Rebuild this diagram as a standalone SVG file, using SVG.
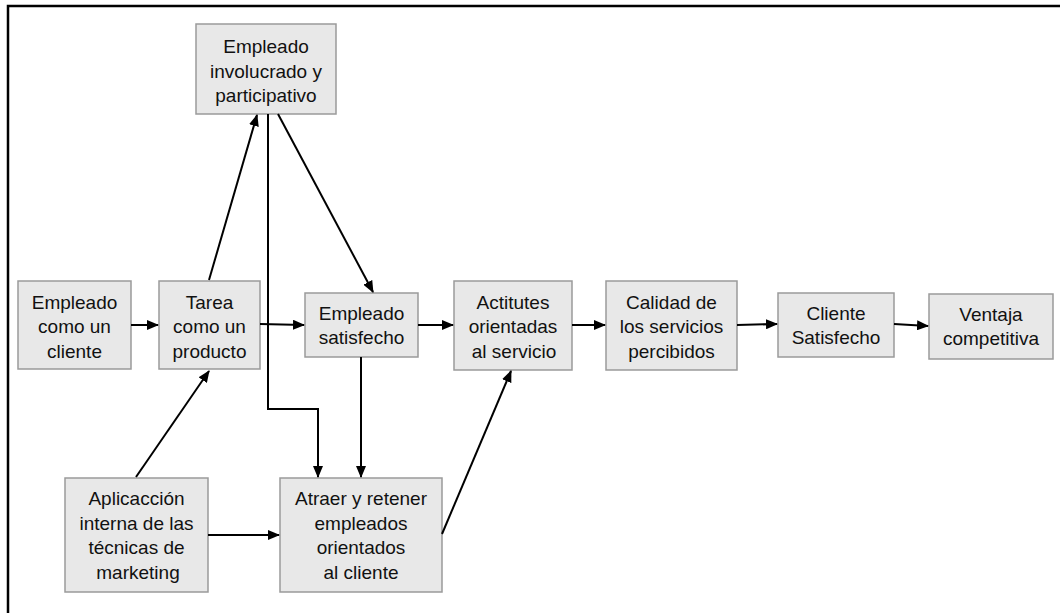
<svg xmlns="http://www.w3.org/2000/svg" width="1060" height="613" viewBox="0 0 1060 613">
<defs>
<marker id="ah" markerUnits="userSpaceOnUse" markerWidth="12" markerHeight="10" refX="11" refY="5" orient="auto">
<path d="M0,0 L12,5 L0,10 Z" fill="#000"/>
</marker>
<style>
.box{fill:#e8e8e8;stroke:#9a9a9a;stroke-width:1.5}
.t{font-family:"Liberation Sans",Arial,sans-serif;font-size:19px;fill:#111;text-anchor:middle}
.c{fill:none;stroke:#000;stroke-width:2;marker-end:url(#ah)}
.l{fill:none;stroke:#000;stroke-width:2}
</style>
</defs>
<rect x="0" y="0" width="1060" height="613" fill="#fff"/>
<rect x="8" y="6" width="1200" height="800" fill="none" stroke="#000" stroke-width="2.5"/>

<g id="n-involucrado">
<rect class="box" x="196" y="24" width="140" height="90"/>
<text class="t" x="266" y="53">Empleado</text>
<text class="t" x="266" y="77.5">involucrado y</text>
<text class="t" x="266" y="102">participativo</text>
</g>
<g id="n-cliente-emp">
<rect class="box" x="18" y="281" width="113" height="88"/>
<text class="t" x="74.5" y="308.5">Empleado</text>
<text class="t" x="74.5" y="333">como un</text>
<text class="t" x="74.5" y="357.5">cliente</text>
</g>
<g id="n-tarea">
<rect class="box" x="159" y="281" width="101" height="88"/>
<text class="t" x="209.5" y="308.5">Tarea</text>
<text class="t" x="209.5" y="333">como un</text>
<text class="t" x="209.5" y="357.5">producto</text>
</g>
<g id="n-satisfecho">
<rect class="box" x="305" y="293" width="113" height="64"/>
<text class="t" x="361.5" y="320">Empleado</text>
<text class="t" x="361.5" y="344">satisfecho</text>
</g>
<g id="n-actitudes">
<rect class="box" x="454" y="281" width="118" height="89"/>
<text class="t" x="513" y="308.5">Actitutes</text>
<text class="t" x="513" y="333">orientadas</text>
<text class="t" x="514" y="357.5">al servicio</text>
</g>
<g id="n-calidad">
<rect class="box" x="606" y="281" width="131" height="89"/>
<text class="t" x="671.5" y="308.5">Calidad de</text>
<text class="t" x="671.5" y="333">los servicios</text>
<text class="t" x="671.5" y="357.5">percibidos</text>
</g>
<g id="n-cliente-sat">
<rect class="box" x="778" y="293" width="116" height="64"/>
<text class="t" x="836" y="320">Cliente</text>
<text class="t" x="836" y="344">Satisfecho</text>
</g>
<g id="n-ventaja">
<rect class="box" x="929" y="294" width="124" height="65"/>
<text class="t" x="991" y="321">Ventaja</text>
<text class="t" x="991" y="345">competitiva</text>
</g>
<g id="n-aplicacion">
<rect class="box" x="65" y="478" width="143" height="114"/>
<text class="t" x="136.5" y="505">Aplicacción</text>
<text class="t" x="136.5" y="529.5">interna de las</text>
<text class="t" x="136.5" y="554">técnicas de</text>
<text class="t" x="138" y="578.5">marketing</text>
</g>
<g id="n-atraer">
<rect class="box" x="280" y="478" width="162" height="114"/>
<text class="t" x="361" y="505">Atraer y retener</text>
<text class="t" x="361" y="529.5">empleados</text>
<text class="t" x="361" y="554">orientados</text>
<text class="t" x="361" y="578.5">al cliente</text>
</g>

<g id="connectors">
<line class="c" x1="209" y1="280" x2="257" y2="115"/>
<polyline class="c" points="268,114 268,409 318,409 318,477"/>
<line class="c" x1="278" y1="114" x2="373" y2="292"/>
<line class="c" x1="131" y1="325" x2="158" y2="325"/>
<line class="c" x1="260" y1="324" x2="304" y2="325"/>
<line class="c" x1="418" y1="325" x2="453" y2="325"/>
<line class="c" x1="572" y1="325" x2="605" y2="325"/>
<line class="c" x1="737" y1="325" x2="777" y2="324"/>
<line class="c" x1="894" y1="324" x2="928" y2="326"/>
<line class="c" x1="361" y1="357" x2="361" y2="477"/>
<line class="c" x1="136" y1="477" x2="209" y2="371"/>
<line class="c" x1="208" y1="535" x2="279" y2="535"/>
<line class="c" x1="442" y1="534" x2="511" y2="371"/>
</g>
</svg>
